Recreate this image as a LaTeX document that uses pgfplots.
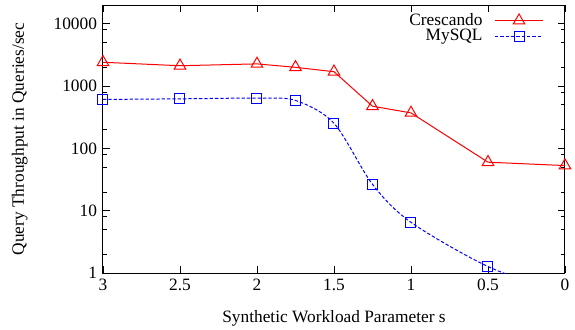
\documentclass[border=0pt]{standalone}
\usepackage{pgfplots}
\pgfplotsset{compat=1.18}
\usepackage{fontspec}
\setmainfont{Liberation Serif}
\definecolor{cres}{RGB}{255,0,0}
\definecolor{mysql}{RGB}{0,0,255}
\begin{document}
\fontsize{13}{15}\selectfont
\begin{tikzpicture}
\begin{axis}[
  name=ax,
  scale only axis,
  width=346.5pt, height=201pt,
  ymode=log,
  xmin=0, xmax=3, ymin=1, ymax=20000,
  x dir=reverse,
  xtick={0,0.5,1,1.5,2,2.5,3},
  xticklabels={0,0.5,1,1.5,2,2.5,3},
  ytick={1,10,100,1000,10000},
  yticklabels={1,10,100,1000,10000},
  minor ytick={2,5,8,20,50,80,200,500,800,2000,5000,8000},
  tick align=inside,
  major tick length=5pt,
  minor tick length=3pt,
  every tick/.style={black, line width=0.6pt},
  axis line style={line width=0.75pt},
  /pgf/number format/assume math mode=true,
  tick label style={font=\fontsize{13}{15}\selectfont},
  label style={font=\fontsize{13}{15}\selectfont},
  xlabel={Synthetic Workload Parameter s},
  ylabel={Query Throughput in Queries/sec},
  every axis x label/.style={at={(axis description cs:0.5,-0.168)},anchor=center},
  every axis y label/.style={at={(axis description cs:-0.18,0.5)},rotate=90,anchor=center},
  clip mode=individual,
  legend style={draw=none, fill=none, at={(axis description cs:0.957,0.985)}, anchor=north east,
    font=\fontsize{13}{15}\selectfont, row sep=-3pt, inner sep=1pt,
    /tikz/every odd column/.append style={column sep=7pt}},
  legend cell align=right,
  legend plot pos=right,
  legend image code/.code={\draw[#1, mark repeat=2, mark phase=2] plot coordinates {(0pt,0pt) (18pt,0pt) (36pt,0pt)};},
]
\addplot[cres, line width=0.75pt, mark=triangle, mark size=5pt, mark options={solid, cres}]
  coordinates {(3,2410) (2.5,2120) (2,2270) (1.75,2000) (1.5,1700) (1.25,475) (1,371) (0.5,60) (0,53)};
\addlegendentry{Crescando}
\addplot[mysql, line width=0.75pt, dash pattern=on 2.5pt off 1.5pt, smooth, forget plot]
  coordinates {(3,610) (2.5,624) (2,640) (1.75,588) (1.5,253) (1.25,26.5) (1,6.5) (0.5,1.27) (0,0.45)};
\addplot[mysql, line width=0.75pt, only marks, mark=square, mark size=3.75pt, mark options={solid, mysql}, forget plot]
  coordinates {(3,610) (2.5,624) (2,640) (1.75,588) (1.5,253) (1.25,26.5) (1,6.5) (0.5,1.27)};
\addlegendimage{mysql, line width=0.75pt, dash pattern=on 2.5pt off 1.5pt, mark=square, mark size=3.75pt, mark options={solid, mysql}}
\addlegendentry{MySQL}
\end{axis}
\pgfresetboundingbox
\path[use as bounding box] ([shift={(-77.25pt,-42pt)}]ax.south west) rectangle ([shift={(7.5pt,3.75pt)}]ax.north east);
\end{tikzpicture}
\end{document}
